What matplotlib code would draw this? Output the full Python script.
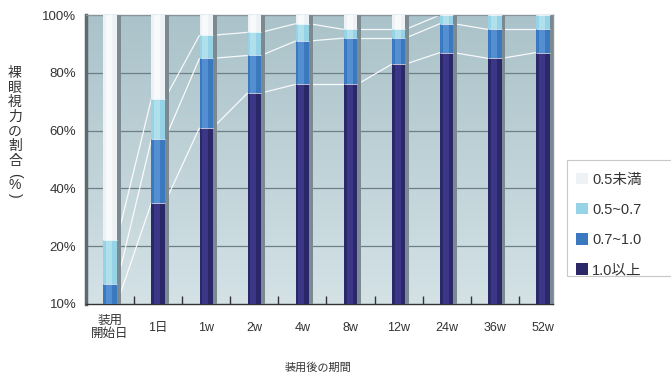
#!/usr/bin/env python3
"""Stacked bar chart: naked-eye visual acuity share over time after fitting."""

import matplotlib

matplotlib.use("Agg")
import matplotlib.pyplot as plt
import numpy as np
from matplotlib.patches import Patch, Rectangle

plt.rcParams["font.family"] = ["Liberation Sans", "Noto Sans CJK JP", "DejaVu Sans"]

periods = ["装用\n開始日", "1日", "1w", "2w", "4w", "8w", "12w", "24w", "36w", "52w"]
acuity_10_up = [0, 35, 61, 73, 76, 76, 83, 87, 85, 87]      # 1.0以上
acuity_07_10 = [7, 22, 24, 13, 15, 16, 9, 10, 10, 8]        # 0.7~1.0
acuity_05_07 = [15, 14, 8, 8, 6, 3, 3, 3, 5, 5]             # 0.5~0.7
acuity_lt_05 = [78, 29, 7, 6, 3, 5, 5, 0, 0, 0]             # 0.5未満
series_labels = ["1.0以上", "0.7~1.0", "0.5~0.7", "0.5未満"]
ytick_vals = [0, 20, 40, 60, 80, 100]
ytick_labels = ["10%", "20%", "40%", "60%", "80%", "100%"]

colors = ["#2a2868", "#3a78c0", "#96d3e6", "#eef2f4"]
highlights = ["#403c8e", "#5b97d6", "#b8e4f0", "#fbfcfd"]
cjk = ["Noto Sans CJK JP", "DejaVu Sans"]

fig = plt.figure(figsize=(6.71, 3.80), dpi=100)
ax = fig.add_axes([86 / 671, 1 - 304 / 380, (553 - 86) / 671, (304 - 15) / 380])

x = np.arange(len(periods))
xlim = (-0.5, 9.21)
ax.set_xlim(*xlim)
ax.set_ylim(0, 100)

# background gradient
grad = np.linspace(0, 1, 256)[:, None]
top_c = np.array([170, 194, 201]) / 255
bot_c = np.array([212, 226, 230]) / 255
img = top_c * (1 - grad[..., None]) + bot_c * grad[..., None]
img = np.repeat(img, 2, axis=1)
ax.imshow(img, extent=(*xlim, 0, 100), aspect="auto", origin="upper", zorder=0)

for y in ytick_vals[1:-1]:
    ax.axhline(y, color="#6e8087", lw=0.9, zorder=1)

w = 0.28
stack = np.array([acuity_10_up, acuity_07_10, acuity_05_07, acuity_lt_05], dtype=float)
cum = np.cumsum(stack, axis=0)

# connecting lines between segment tops
for k in range(3):
    for i in range(len(x) - 1):
        ax.plot([x[i] + w / 2, x[i + 1] - w / 2], [cum[k, i], cum[k, i + 1]],
                color="white", lw=0.9, alpha=0.9, zorder=2, solid_capstyle="butt")

# bar shadows
ax.bar(x + w / 2 + 0.04, 100, width=0.08, color="#7a8a90", zorder=3)

bottom = np.zeros(len(x))
for k in range(4):
    ax.bar(x, stack[k], w, bottom=bottom, color=colors[k], zorder=4)
    ax.bar(x - 0.02, stack[k], w * 0.45, bottom=bottom, color=highlights[k], alpha=0.8, zorder=5)
    bottom += stack[k]
    if k < 3:
        ax.hlines(cum[k], x - w / 2, x + w / 2, color="white", lw=0.7, alpha=0.7, zorder=6)

ax.set_yticks(ytick_vals)
ax.set_yticklabels(ytick_labels, fontsize=9.5, color="#333333")
ax.tick_params(axis="y", length=0, pad=7)
ax.set_xticks(x)
ax.set_xticklabels(periods, fontsize=9, color="#333333", linespacing=1.1)
for lab in ax.get_xticklabels():
    lab.set_va("center")
ax.tick_params(axis="x", which="major", length=0, pad=17)
ax.set_xticks(x[:-1] + 0.5, minor=True)
ax.tick_params(axis="x", which="minor", direction="in", length=6, width=1, color="#333333")

for side in ["top", "right"]:
    ax.spines[side].set_color("#8a9599")
    ax.spines[side].set_linewidth(1)
ax.spines["left"].set_color("#5d6a6e")
ax.spines["left"].set_linewidth(2.5)
ax.spines["bottom"].set_color("#333333")
ax.spines["bottom"].set_linewidth(1)

# vertical y label
ylabel_chars = ["裸", "眼", "視", "力", "の", "割", "合"]
for j, ch in enumerate(ylabel_chars):
    fig.text(15 / 671, 1 - (73 + j * 14.6) / 380, ch, ha="center", va="center",
             fontsize=10, color="#333333", family=cjk)
fig.text(15 / 671, 1 - 175 / 380, "(", rotation=-90, ha="center", va="center",
         fontsize=10, color="#333333")
fig.text(15 / 671, 1 - 185 / 380, "%", ha="center", va="center",
         fontsize=10, color="#333333")
fig.text(15 / 671, 1 - 195 / 380, ")", rotation=-90, ha="center", va="center",
         fontsize=10, color="#333333")

fig.text(318 / 671, 1 - 368 / 380, "装用後の期間", ha="center", va="center",
         fontsize=8, color="#333333", family=cjk)

# legend frame runs off the right edge of the figure
fig.patches.append(Rectangle((567 / 671, 1 - 276 / 380), 120 / 671, 116 / 380,
                             transform=fig.transFigure, facecolor="white",
                             edgecolor="#c8c8c8", linewidth=0.8, zorder=1))
handles = [Patch(facecolor=colors[k], edgecolor="none") for k in range(3, -1, -1)]
labels = [series_labels[k] for k in range(3, -1, -1)]
leg = fig.legend(handles, labels, loc="upper left", bbox_to_anchor=(573 / 671, 1 - 170 / 380),
                 frameon=False, fontsize=10.5, labelspacing=1.1,
                 handlelength=0.8, handleheight=0.8, handletextpad=0.3,
                 borderpad=0.2, borderaxespad=0)
leg.set_zorder(2)
for t in leg.get_texts():
    t.set_color("#333333")

fig.savefig("out.png", dpi=100)
